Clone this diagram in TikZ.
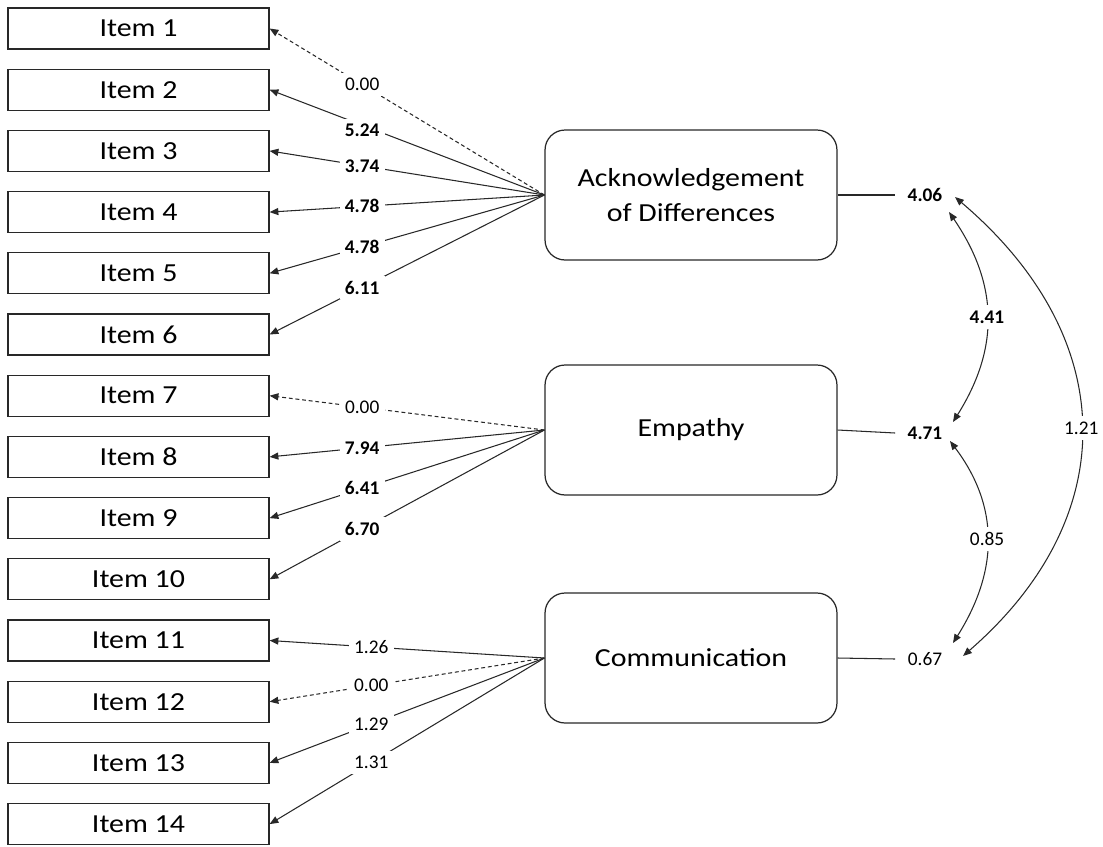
\documentclass[tikz,border=0pt]{standalone}
\usepackage{fontspec}
\setmainfont{Carlito}
\newfontfamily\bigfont{Carlito}[FakeStretch=1.15]
\usetikzlibrary{arrows.meta}
\definecolor{ln}{RGB}{40,40,40}
\begin{document}
\begin{tikzpicture}[x=0.02cm,y=-0.02cm,
  item/.style={draw=ln, line width=0.7pt, minimum width=5.22cm, minimum height=0.82cm, inner sep=0pt,
    font=\bigfont\fontsize{14.8}{18}\selectfont},
  latent/.style={draw=ln, line width=0.7pt, rounded corners=0.4cm, minimum width=5.84cm, minimum height=2.6cm,
    align=center, inner sep=0pt, font=\bigfont\fontsize{14.8}{19.5}\selectfont},
  lab/.style={fill=white, inner sep=3pt, font=\fontsize{11}{13}\selectfont, text=black},
  vlab/.style={lab, inner xsep=7pt},
  tip/.style={-{Triangle[length=5pt,width=4pt]}},
  load/.style={draw=ln, line width=0.6pt, tip},
  fixed/.style={load, dash pattern=on 2.2pt off 1.6pt},
  cov/.style={draw=ln, line width=0.6pt, {Triangle[length=5pt,width=4pt]}-{Triangle[length=5pt,width=4pt]}},
  plain/.style={draw=ln, line width=0.6pt},
]
\useasboundingbox (0,0) rectangle (1103,846);

% items
\foreach \i in {1,...,14}{
  \node[item] (i\i) at (138.5,{28.5+61.2*(\i-1)}) {Item \i};
}

% latent variables
\node[latent] (ack) at (691,195) {Acknowledgement\\of Differences};
\node[latent] (emp) at (691,430) {Empathy};
\node[latent] (com) at (691,658) {Communication};

% loadings: Acknowledgement of Differences
\draw[fixed] (ack.west) -- node[lab,pos=0.663]{0.00} (i1.east);
\draw[load] (ack.west) -- node[lab,pos=0.663,yshift=-0.1cm]{\textbf{5.24}} (i2.east);
\draw[load] (ack.west) -- node[lab,pos=0.663]{\textbf{3.74}} (i3.east);
\draw[load] (ack.west) -- node[lab,pos=0.663]{\textbf{4.78}} (i4.east);
\draw[load] (ack.west) -- node[lab,pos=0.663]{\textbf{4.78}} (i5.east);
\draw[load] (ack.west) -- node[lab,pos=0.663]{\textbf{6.11}} (i6.east);

% loadings: Empathy
\draw[fixed] (emp.west) -- node[lab,pos=0.663]{0.00} (i7.east);
\draw[load] (emp.west) -- node[lab,pos=0.663]{\textbf{7.94}} (i8.east);
\draw[load] (emp.west) -- node[lab,pos=0.663]{\textbf{6.41}} (i9.east);
\draw[load] (emp.west) -- node[lab,pos=0.663]{\textbf{6.70}} (i10.east);

% loadings: Communication
\draw[load] (com.west) -- node[lab,pos=0.63]{1.26} (i11.east);
\draw[fixed] (com.west) -- node[lab,pos=0.63]{0.00} (i12.east);
\draw[load] (com.west) -- node[lab,pos=0.63]{1.29} (i13.east);
\draw[load] (com.west) -- node[lab,pos=0.63]{1.31} (i14.east);

% variances
\node[vlab] (v1) at (925,195) {\textbf{4.06}};
\node[vlab] (v2) at (925,433) {\textbf{4.71}};
\node[vlab] (v3) at (925,659) {0.67};
\draw[plain] (ack.east) -- (v1.west);
\draw[plain] (emp.east) -- (v2.west);
\draw[plain] (com.east) -- (v3.west);

% covariances
\coordinate (c1a) at (949,212);
\coordinate (c1b) at (953,422);
\coordinate (c2a) at (950,441);
\coordinate (c2b) at (953,643);
\coordinate (c3a) at (955,197);
\coordinate (c3b) at (963,656);
\draw[cov] (c1a) .. controls (999,285) and (999,349) .. node[lab]{\textbf{4.41}} (c1b);
\draw[cov] (c2a) .. controls (999,506) and (999,570) .. node[lab]{0.85} (c2b);
\draw[cov] (c3a) .. controls (1122,339) and (1122,518) .. node[lab]{1.21} (c3b);
\end{tikzpicture}
\end{document}
